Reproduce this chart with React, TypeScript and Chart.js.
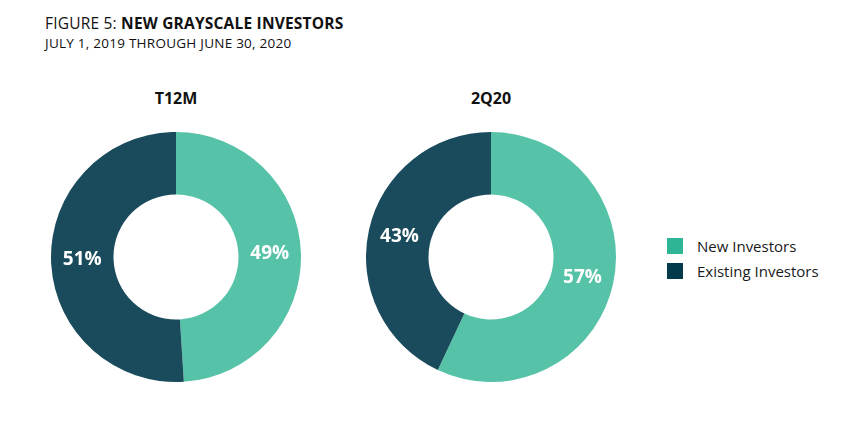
import React, { useEffect, useRef } from "react";
import { Chart, registerables } from "chart.js";

Chart.register(...registerables);

const categories = ["New Investors", "Existing Investors"];
const chartTitles = ["T12M", "2Q20"];
const t12mValues = [49, 51];
const q2Values = [57, 43];
const sliceColors = ["#56C2A7", "#1A4B5C"];
const legendColors = ["#2DB596", "#033A4B"];

const FONT = "'Open Sans', 'Noto Sans', sans-serif";

const pctLabels = {
  id: "pctLabels",
  afterDatasetsDraw(chart: any) {
    const ctx = chart.ctx;
    const meta = chart.getDatasetMeta(0);
    const data = chart.data.datasets[0].data as number[];
    ctx.save();
    ctx.fillStyle = "#ffffff";
    ctx.font = `bold 19px ${FONT}`;
    ctx.textAlign = "center";
    ctx.textBaseline = "middle";
    meta.data.forEach((arc: any, i: number) => {
      const p = arc.tooltipPosition();
      ctx.fillText(`${data[i]}%`, p.x, p.y);
    });
    ctx.restore();
  },
};

function Donut({ values, left }: { values: number[]; left: number }) {
  const ref = useRef<HTMLCanvasElement>(null);
  useEffect(() => {
    if (!ref.current) return;
    const chart = new Chart(ref.current, {
      type: "doughnut",
      data: {
        labels: categories,
        datasets: [
          {
            data: values,
            backgroundColor: sliceColors,
            borderWidth: 0,
          },
        ],
      },
      options: {
        animation: false,
        responsive: false,
        cutout: "50%",
        layout: { padding: 0 },
        plugins: {
          legend: { display: false },
          tooltip: { enabled: false },
        },
      },
      plugins: [pctLabels],
    });
    return () => chart.destroy();
  }, [values]);
  return (
    <canvas
      ref={ref}
      width={250}
      height={250}
      style={{ position: "absolute", left, top: 132, width: 250, height: 250 }}
    />
  );
}

export default function App() {
  return (
    <div
      style={{
        position: "fixed",
        left: 0,
        top: 0,
        width: 859,
        height: 425,
        background: "#fff",
        fontFamily: FONT,
        color: "#111",
      }}
    >
      <div style={{ position: "absolute", left: 45, top: 12, fontSize: 15.5, letterSpacing: 0.2, whiteSpace: "nowrap" }}>
        FIGURE 5: <b>NEW GRAYSCALE INVESTORS</b>
      </div>
      <div style={{ position: "absolute", left: 45, top: 34, fontSize: 13.5, letterSpacing: 0.25, whiteSpace: "nowrap" }}>
        JULY 1, 2019 THROUGH JUNE 30, 2020
      </div>
      {chartTitles.map((t, i) => (
        <div
          key={t}
          style={{
            position: "absolute",
            left: (i === 0 ? 176 : 491) - 60,
            width: 120,
            top: 87,
            textAlign: "center",
            fontWeight: "bold",
            fontSize: 16,
          }}
        >
          {t}
        </div>
      ))}
      <Donut values={t12mValues} left={51} />
      <Donut values={q2Values} left={366} />
      {categories.map((c, i) => (
        <div
          key={c}
          style={{
            position: "absolute",
            left: 667,
            top: 236 + i * 25,
            display: "flex",
            alignItems: "center",
            fontSize: 15,
            color: "#1a1a1a",
            whiteSpace: "nowrap",
          }}
        >
          <span
            style={{
              display: "inline-block",
              width: 16,
              height: 16,
              background: legendColors[i],
              marginRight: 14,
            }}
          />
          {c}
        </div>
      ))}
    </div>
  );
}
